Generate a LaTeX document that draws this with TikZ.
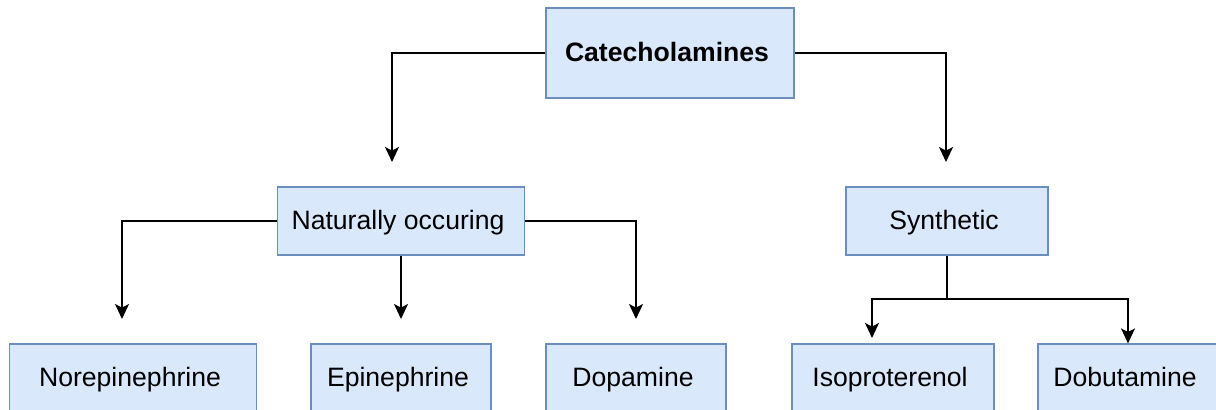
\documentclass[tikz,border=0pt]{standalone}
\usepackage{fontspec}
\setmainfont{Liberation Sans}
\usetikzlibrary{arrows.meta}
\definecolor{boxfill}{HTML}{DAE8FC}
\definecolor{boxline}{HTML}{6C8EBF}
\tikzset{
  box/.style={draw=boxline, fill=boxfill, line width=0.6pt, inner sep=0pt,
    text height=11.5pt, text depth=2.8pt,
    font=\fontsize{13.3}{16}\selectfont, execute at end node={\hspace*{3pt}}},
  arr/.style={line width=0.75pt, draw=black, -{Stealth[length=7.5pt,width=7pt,inset=1.8pt]}},
  ln/.style={line width=0.75pt, draw=black}
}
\begin{document}
\begin{tikzpicture}[x=0.5pt,y=-0.5pt]
\useasboundingbox (0,0) rectangle (1216,409);
% nodes
\node[box, minimum width=124pt, minimum height=45pt] (cat) at (670,53) {\textbf{Catecholamines}};
\node[box, minimum width=123.5pt, minimum height=34pt] (nat) at (401,221) {Naturally occuring};
\node[box, minimum width=101pt, minimum height=34pt] (syn) at (947,221) {Synthetic};
\node[box, minimum width=123.5pt, minimum height=34pt] (nor) at (133,378) {Norepinephrine};
\node[box, minimum width=90pt, minimum height=34pt] (epi) at (401,378) {Epinephrine};
\node[box, minimum width=90pt, minimum height=34pt] (dop) at (636,378) {Dopamine};
\node[box, minimum width=101pt, minimum height=34pt] (iso) at (893,378) {Isoproterenol};
\node[box, minimum width=90pt, minimum height=34pt] (dob) at (1128,378) {Dobutamine};
% free ends
\coordinate (catL) at (392,162);
\coordinate (catR) at (946,162);
\coordinate (natL) at (122,319);
\coordinate (natM) at (401,319);
\coordinate (natR) at (636,319);
\coordinate (split) at (947,299);
\coordinate (isoT) at (872,338);
% connectors
\draw[arr] (cat.west) -| (catL);
\draw[arr] (cat.east) -| (catR);
\draw[arr] (nat.west) -| (natL);
\draw[arr] (nat.south) -- (natM);
\draw[arr] (nat.east) -| (natR);
\draw[ln] (syn.south) -- (split);
\draw[arr] (split) -| (isoT);
\draw[arr] (split) -| (dob.north);
\end{tikzpicture}
\end{document}
